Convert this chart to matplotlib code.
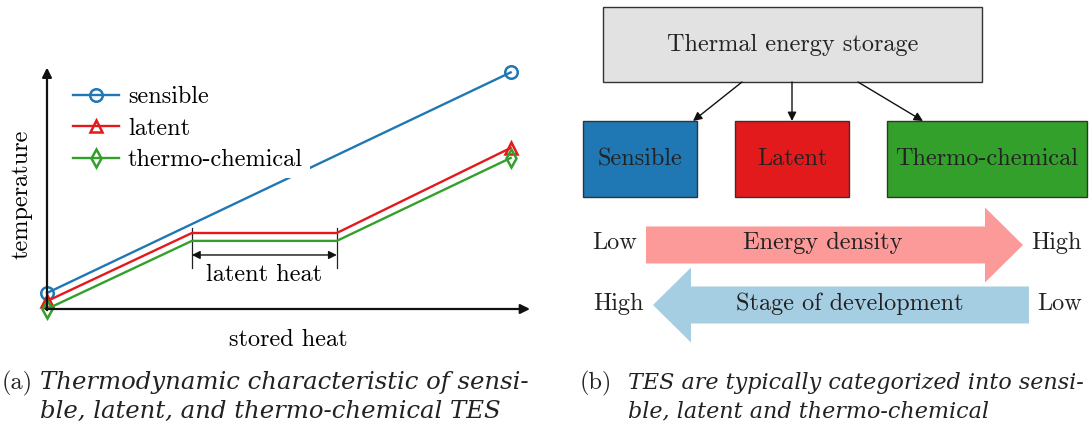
import matplotlib
matplotlib.use("Agg")
import matplotlib.pyplot as plt
from matplotlib.patches import Rectangle, FancyArrow

plt.rcParams['font.family'] = ['cmr10', 'DejaVu Serif']
plt.rcParams['axes.formatter.use_mathtext'] = True
plt.rcParams['mathtext.fontset'] = 'cm'

W, H = 1089, 432

# left panel data (stored heat vs temperature, arbitrary units)
sens_x = [0, 9.6]
sens_y = [0.67, 9.9]
lat_x = [0, 3, 6, 9.6]
lat_y = [0.33, 3.18, 3.18, 6.74]
chem_x = [0, 3, 6, 9.6]
chem_y = [0.0, 2.85, 2.85, 6.32]

c_blue = '#1f78b4'
c_red = '#e31a1c'
c_green = '#33a02c'
c_pink = '#fb9a99'
c_lblue = '#a6cee3'
c_gray = '#e2e2e2'
FS = 17.5


def rect(x0, y0, x1, y1):
    # pixel box (top-left origin) -> figure fraction
    return [x0 / W, 1 - y1 / H, (x1 - x0) / W, (y1 - y0) / H]


fig = plt.figure(figsize=(W / 100, H / 100), dpi=100)

# ---- (a) ----
ax = fig.add_axes(rect(47, 70, 530, 309))
ax.set_xlim(0, 10)
ax.set_ylim(0, 10)
ax.axis('off')

ax.plot(sens_x, sens_y, color=c_blue, lw=1.7, marker='o', mfc='none', mew=1.8, ms=9,
        label='sensible', clip_on=False, zorder=3)
ax.plot(lat_x, lat_y, color=c_red, lw=1.7, marker='^', mfc='none', mew=1.8, ms=9,
        markevery=[0, 3], label='latent', clip_on=False, zorder=3)
ax.plot(chem_x, chem_y, color=c_green, lw=1.7, marker='d', mfc='none', mew=1.8, ms=9,
        markevery=[0, 3], label='thermo-chemical', clip_on=False, zorder=3)

arr = dict(arrowstyle='-|>', lw=1.6, color='#111111', mutation_scale=14, shrinkA=0, shrinkB=0)
ax.annotate('', xy=(0, 10.1), xytext=(0, -0.05), arrowprops=arr, annotation_clip=False)
ax.annotate('', xy=(10.0, 0), xytext=(-0.03, 0), arrowprops=arr, annotation_clip=False)

# latent heat bracket
x1, x2 = lat_x[1], lat_x[2]
for xv in (x1, x2):
    ax.plot([xv, xv], [1.72, 3.39], color='#222222', lw=0.9)
ax.annotate('', xy=(x1, 2.26), xytext=(x2, 2.26),
            arrowprops=dict(arrowstyle='<|-|>', lw=1.0, color='#111111', mutation_scale=12,
                            shrinkA=0, shrinkB=0))
ax.text((x1 + x2) / 2, 1.42, 'latent heat', ha='center', va='center', fontsize=FS)

ax.text(5.0, -0.85, 'stored heat', ha='center', va='top', fontsize=FS)
ax.text(-0.52, 4.8, 'temperature', ha='center', va='center', rotation=90, fontsize=FS)

leg = ax.legend(loc='upper left', bbox_to_anchor=(66 / W, 1 - 79 / H),
                bbox_transform=fig.transFigure, fontsize=FS, frameon=True,
                edgecolor='none', facecolor='white', framealpha=1, fancybox=False,
                handlelength=1.9, handletextpad=0.35, labelspacing=0.38,
                borderpad=0.3, borderaxespad=0)
leg.set_zorder(5)

# ---- (b) ----
ov = fig.add_axes([0, 0, 1, 1])
ov.set_xlim(0, W)
ov.set_ylim(H, 0)
ov.axis('off')

boxes = [
    ((603, 7, 982, 82), c_gray, 'Thermal energy storage'),
    ((583, 121, 697, 197), c_blue, 'Sensible'),
    ((735, 121, 849, 197), c_red, 'Latent'),
    ((887, 121, 1087, 197), c_green, 'Thermo-chemical'),
]
for (x0, y0, x1b, y1b), col, txt in boxes:
    ov.add_patch(Rectangle((x0, y0), x1b - x0, y1b - y0, facecolor=col,
                           edgecolor='#333333', lw=1.0))
    ov.text((x0 + x1b) / 2, (y0 + y1b) / 2, txt, ha='center', va='center',
            fontsize=FS, color='#222222')

for (xa, ya), (xb, yb) in [((742, 82), (693, 121)), ((792, 82), (792, 121)),
                           ((858, 82), (923, 121))]:
    ov.annotate('', xy=(xb, yb), xytext=(xa, ya),
                arrowprops=dict(arrowstyle='-|>', lw=1.0, color='#111111',
                                mutation_scale=13, shrinkA=0, shrinkB=0))

ov.add_patch(FancyArrow(646, 245, 1023 - 646, 0, width=37, head_width=75, head_length=38,
                        length_includes_head=True, color=c_pink, lw=0))
ov.add_patch(FancyArrow(1029, 305, 653 - 1029, 0, width=37, head_width=75, head_length=38,
                        length_includes_head=True, color=c_lblue, lw=0))
ov.text(823, 243, 'Energy density', ha='center', va='center', fontsize=FS, color='#222222')
ov.text(850, 304, 'Stage of development', ha='center', va='center', fontsize=FS,
        color='#222222')
ov.text(615, 243, 'Low', ha='center', va='center', fontsize=FS, color='#222222')
ov.text(1056, 243, 'High', ha='center', va='center', fontsize=FS, color='#222222')
ov.text(618, 304, 'High', ha='center', va='center', fontsize=FS, color='#222222')
ov.text(1060, 304, 'Low', ha='center', va='center', fontsize=FS, color='#222222')

# captions
cap = dict(color='#222222', va='center', ha='left')
up = dict(family=['cmr10'], fontsize=FS)
ita = dict(family=['DejaVu Serif'], style='italic', fontsize=17.6)
itb = dict(family=['DejaVu Serif'], style='italic', fontsize=16.0)
ov.text(2, 383, '(a)', **cap, **up)
ov.text(40, 383, 'Thermodynamic characteristic of sensi-', **cap, **ita)
ov.text(40, 411, 'ble, latent, and thermo-chemical TES', **cap, **ita)
ov.text(580, 383, '(b)', **cap, **up)
ov.text(628, 383, 'TES are typically categorized into sensi-', **cap, **itb)
ov.text(628, 411, 'ble, latent and thermo-chemical', **cap, **itb)

fig.savefig('out.png', dpi=100)
